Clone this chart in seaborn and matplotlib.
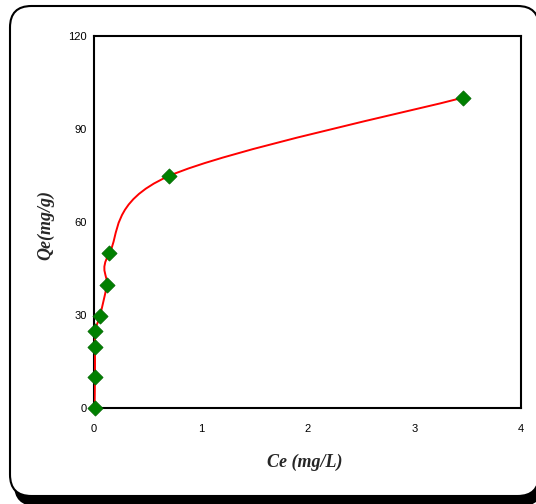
import numpy as np
import pandas as pd
import matplotlib
matplotlib.use("Agg")
import matplotlib.pyplot as plt
import seaborn as sns
from matplotlib.path import Path
from matplotlib.patches import PathPatch, FancyBboxPatch

# Data
ce = [0.005, 0.009, 0.009, 0.009, 0.056, 0.119, 0.143, 0.70, 3.455]
qe = [0.0, 10.2, 19.9, 25.0, 29.9, 39.8, 50.0, 74.9, 100.2]
xticks = [0, 1, 2, 3, 4]
yticks = [0, 30, 60, 90, 120]

sns.set_style("white")
plt.rcParams['font.family'] = ['Liberation Sans', 'DejaVu Sans']

W, H = 536, 504
fig = plt.figure(figsize=(W / 100, H / 100), dpi=100)

def fx(p):
    return p / W
def fy(p):
    return 1 - p / H

# Rounded frame with shadow
bl, bt, br, bb = 10, 6, 539, 496
shadow = FancyBboxPatch((fx(bl + 4), fy(bb + 10)), fx(br - bl), (bb - bt) / H,
                        boxstyle="round,pad=0,rounding_size=0.04",
                        transform=fig.transFigure, facecolor="black",
                        edgecolor="black", linewidth=0, zorder=0,
                        mutation_aspect=W / H)
fig.patches.append(shadow)
frame = FancyBboxPatch((fx(bl), fy(bb)), fx(br - bl), (bb - bt) / H,
                       boxstyle="round,pad=0,rounding_size=0.04",
                       transform=fig.transFigure, facecolor="white",
                       edgecolor="black", linewidth=1.5, zorder=1,
                       mutation_aspect=W / H)
fig.patches.append(frame)

left, right, top, bottom = 94, 521, 36.3, 408.3
ax = fig.add_axes([fx(left), fy(bottom), fx(right - left), (bottom - top) / H])
ax.set_zorder(2)
ax.set_facecolor("white")

# Smoothed line (Excel-style Catmull-Rom Bezier through the data)
pts = np.column_stack([ce, qe])
n = len(pts)
verts = [tuple(pts[0])]
codes = [Path.MOVETO]
for i in range(n - 1):
    p0 = pts[i - 1] if i > 0 else pts[i]
    p1 = pts[i]
    p2 = pts[i + 1]
    p3 = pts[i + 2] if i + 2 < n else pts[i + 1]
    c1 = p1 + (p2 - p0) / 6.0
    c2 = p2 - (p3 - p1) / 6.0
    verts += [tuple(c1), tuple(c2), tuple(p2)]
    codes += [Path.CURVE4] * 3
ax.add_patch(PathPatch(Path(verts, codes), facecolor="none",
                       edgecolor="red", linewidth=1.4, zorder=3))

df = pd.DataFrame({"Ce": ce, "Qe": qe})
sns.scatterplot(data=df, x="Ce", y="Qe", marker="D", s=60, color="#008000",
                edgecolor="#006400", linewidth=0.5, zorder=4, ax=ax,
                clip_on=False)

ax.set_xlim(0, 4)
ax.set_ylim(0, 120)
ax.set_xticks(xticks)
ax.set_yticks(yticks)
ax.set_xticklabels([str(t) for t in xticks])
ax.set_yticklabels([str(t) for t in yticks])
ax.tick_params(direction="in", length=2, width=1, labelsize=8, colors="black")
ax.tick_params(axis="x", pad=11)
ax.tick_params(axis="y", pad=5)
for s in ax.spines.values():
    s.set_color("black")
    s.set_linewidth(1.5)

ax.set_xlabel("")
ax.set_ylabel("")
fig.text(fx(305), fy(462), "Ce (mg/L)", ha="center", va="center",
         family="Liberation Serif", fontweight="bold", fontstyle="italic",
         fontsize=13, zorder=5)
fig.text(fx(46), fy(225), "Qe(mg/g)", ha="center", va="center",
         rotation=90, family="Liberation Serif", fontweight="bold",
         fontstyle="italic", fontsize=13, zorder=5)

fig.savefig("out.png", dpi=100)
